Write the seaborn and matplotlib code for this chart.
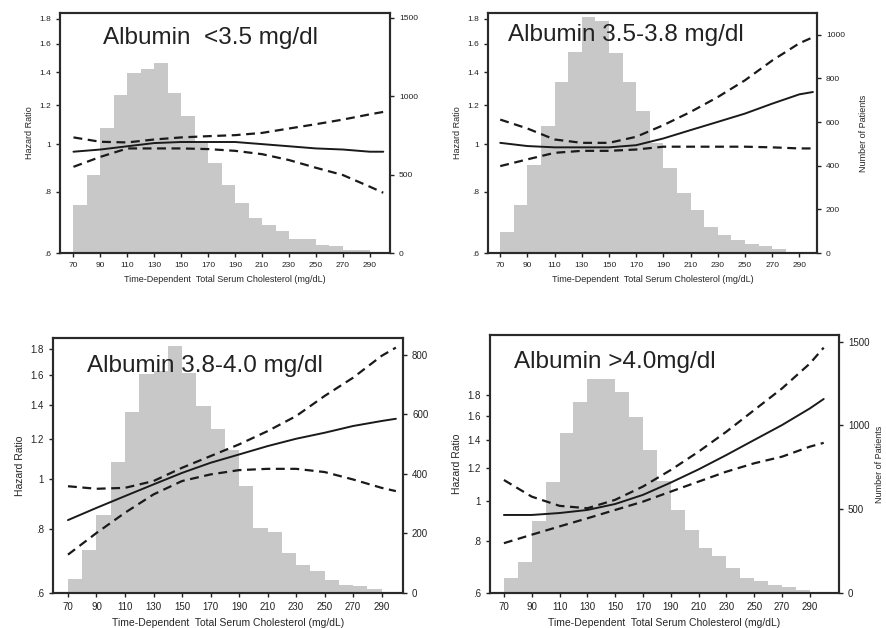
import numpy as np
import pandas as pd
import matplotlib
matplotlib.use("Agg")
import matplotlib.pyplot as plt
import seaborn as sns
from matplotlib.ticker import FixedLocator, FixedFormatter, NullLocator

# Styl
sns.set_style("ticks")
plt.rcParams["font.family"] = ["Liberation Sans", "DejaVu Sans"]

# Dane - histogramy (liczba pacjentów w przedziałach po 10 mg/dL, od 70)
bin_starts = list(range(70, 300, 10))
counts_a = [308, 499, 796, 1008, 1150, 1174, 1210, 1019, 875, 700, 573, 432, 320, 220, 180, 140, 92, 88, 53, 42, 19, 22, 8]
counts_b = [94, 220, 405, 580, 786, 920, 1081, 1063, 918, 786, 649, 505, 389, 275, 198, 119, 84, 58, 43, 33, 18, 6, 2]
counts_c = [47, 143, 263, 439, 607, 737, 745, 831, 740, 627, 551, 480, 361, 218, 204, 134, 95, 73, 45, 28, 22, 13, 3]
counts_d = [89, 184, 427, 665, 954, 1143, 1276, 1276, 1202, 1053, 855, 670, 497, 378, 268, 218, 149, 89, 69, 50, 36, 20, 5]

# Dane - krzywe hazardu
hr_x = [70, 90, 110, 130, 150, 170, 190, 210, 230, 250, 270, 290, 300]
hr_a = [0.965, 0.975, 0.99, 1.005, 1.01, 1.01, 1.01, 1.0, 0.99, 0.98, 0.975, 0.965, 0.965]
lo_a = [0.899, 0.942, 0.98, 0.98, 0.98, 0.977, 0.969, 0.954, 0.928, 0.895, 0.865, 0.819, 0.796]
up_a = [1.032, 1.011, 1.008, 1.022, 1.032, 1.038, 1.043, 1.054, 1.076, 1.098, 1.122, 1.15, 1.163]

hr_b = [1.006, 0.991, 0.985, 0.985, 0.985, 0.995, 1.027, 1.068, 1.11, 1.154, 1.209, 1.263, 1.277]
lo_b = [0.902, 0.931, 0.96, 0.969, 0.969, 0.975, 0.988, 0.988, 0.988, 0.988, 0.985, 0.98, 0.98]
up_b = [1.122, 1.076, 1.022, 1.006, 1.006, 1.035, 1.093, 1.163, 1.247, 1.349, 1.48, 1.605, 1.651]

hr_c = [0.833, 0.88, 0.928, 0.978, 1.03, 1.078, 1.119, 1.162, 1.201, 1.234, 1.272, 1.301, 1.314]
lo_c = [0.713, 0.786, 0.861, 0.935, 0.993, 1.023, 1.043, 1.049, 1.049, 1.034, 1.0, 0.963, 0.949]
up_c = [0.97, 0.959, 0.963, 0.993, 1.054, 1.111, 1.171, 1.243, 1.33, 1.456, 1.581, 1.744, 1.81]

hr_d = [0.925, 0.925, 0.935, 0.951, 0.983, 1.034, 1.107, 1.191, 1.29, 1.402, 1.523, 1.67, 1.76]
lo_d = [0.791, 0.829, 0.868, 0.908, 0.951, 0.996, 1.053, 1.113, 1.176, 1.232, 1.278, 1.351, 1.38]
up_d = [1.123, 1.024, 0.973, 0.96, 1.006, 1.083, 1.187, 1.314, 1.468, 1.655, 1.866, 2.142, 2.34]

titles = ["Albumin  <3.5 mg/dl", "Albumin 3.5-3.8 mg/dl", "Albumin 3.8-4.0 mg/dl", "Albumin >4.0mg/dl"]
hr_ticks = [0.6, 0.8, 1, 1.2, 1.4, 1.6, 1.8]
hr_tick_labels = [".6", ".8", "1", "1.2", "1.4", "1.6", "1.8"]
x_ticks = list(range(70, 300, 20))

W, H = 887, 628
fig = plt.figure(figsize=(W / 100, H / 100), dpi=100)

panels = [
    # box = (lewo, góra, prawo, dół) w pikselach
    dict(box=(60, 13, 390, 253), xlim=(60, 305), hrmax=1.85, cmax=1530, cticks=[0, 500, 1000, 1500],
         counts=counts_a, hr=hr_a, lo=lo_a, up=up_a, rlabel=False, rpad=10, tpos=(103, 38), fs=6),
    dict(box=(488, 13, 817, 253), xlim=(61, 303), hrmax=1.85, cmax=1100, cticks=[0, 200, 400, 600, 800, 1000],
         counts=counts_b, hr=hr_b, lo=lo_b, up=up_b, rlabel=True, rpad=10, tpos=(508, 35), fs=6),
    dict(box=(53, 338, 403, 593), xlim=(59.5, 305), hrmax=1.89, cmax=857, cticks=[0, 200, 400, 600, 800],
         counts=counts_c, hr=hr_c, lo=lo_c, up=up_c, rlabel=False, rpad=10, tpos=(87, 366), fs=7),
    dict(box=(490, 335, 839, 593), xlim=(60, 311), hrmax=2.51, cmax=1540, cticks=[0, 500, 1000, 1500],
         counts=counts_d, hr=hr_d, lo=lo_d, up=up_d, rlabel=True, rpad=4, tpos=(514, 362), fs=7),
]

for p, title in zip(panels, titles):
    l, t, r, b = p["box"]
    ax = fig.add_axes([l / W, 1 - b / H, (r - l) / W, (b - t) / H])
    axh = ax.twinx()

    # Histogram (oś prawa)
    sns.histplot(x=bin_starts, weights=p["counts"], bins=list(range(70, 310, 10)),
                 color="#c8c8c8", alpha=1, edgecolor="none", linewidth=0, ax=axh)
    axh.set_ylim(0, p["cmax"])
    axh.set_yticks(p["cticks"])
    axh.tick_params(axis="y", labelsize=p["fs"], length=3, width=1, colors="#222222")
    axh.set_ylabel("Number of Patients" if p["rlabel"] else "", fontsize=6.5, labelpad=p["rpad"])

    # Krzywe hazardu (oś lewa, log)
    df = pd.DataFrame({"x": hr_x, "hr": p["hr"], "lo": p["lo"], "up": p["up"]})
    sns.lineplot(data=df, x="x", y="hr", color="#1a1a1a", lw=1.4, ax=ax)
    sns.lineplot(data=df, x="x", y="lo", color="#1a1a1a", lw=1.6, ax=ax, dashes=False, linestyle=(0, (4, 2.5)))
    sns.lineplot(data=df, x="x", y="up", color="#1a1a1a", lw=1.6, ax=ax, dashes=False, linestyle=(0, (4, 2.5)))
    ax.set_yscale("log")
    ax.set_ylim(0.6, p["hrmax"])
    ax.yaxis.set_major_locator(FixedLocator(hr_ticks))
    ax.yaxis.set_major_formatter(FixedFormatter(hr_tick_labels))
    ax.yaxis.set_minor_locator(NullLocator())
    ax.set_xlim(*p["xlim"])
    ax.set_xticks(x_ticks)
    ax.tick_params(axis="both", labelsize=p["fs"], length=3, width=1, colors="#222222")
    ax.set_ylabel("Hazard Ratio", fontsize=p["fs"] + 0.5)
    ax.set_xlabel("Time-Dependent  Total Serum Cholesterol (mg/dL)", fontsize=p["fs"] + 0.5)

    # linie przed histogramem
    ax.set_zorder(axh.get_zorder() + 1)
    ax.patch.set_visible(False)

    for a in (ax, axh):
        for s in a.spines.values():
            s.set_linewidth(1.5)
            s.set_color("#2a2a2a")

    fig.text(p["tpos"][0] / W, 1 - p["tpos"][1] / H, title, fontsize=17.5,
             va="center", ha="left", color="#222222")

fig.savefig("out.png", dpi=100)
